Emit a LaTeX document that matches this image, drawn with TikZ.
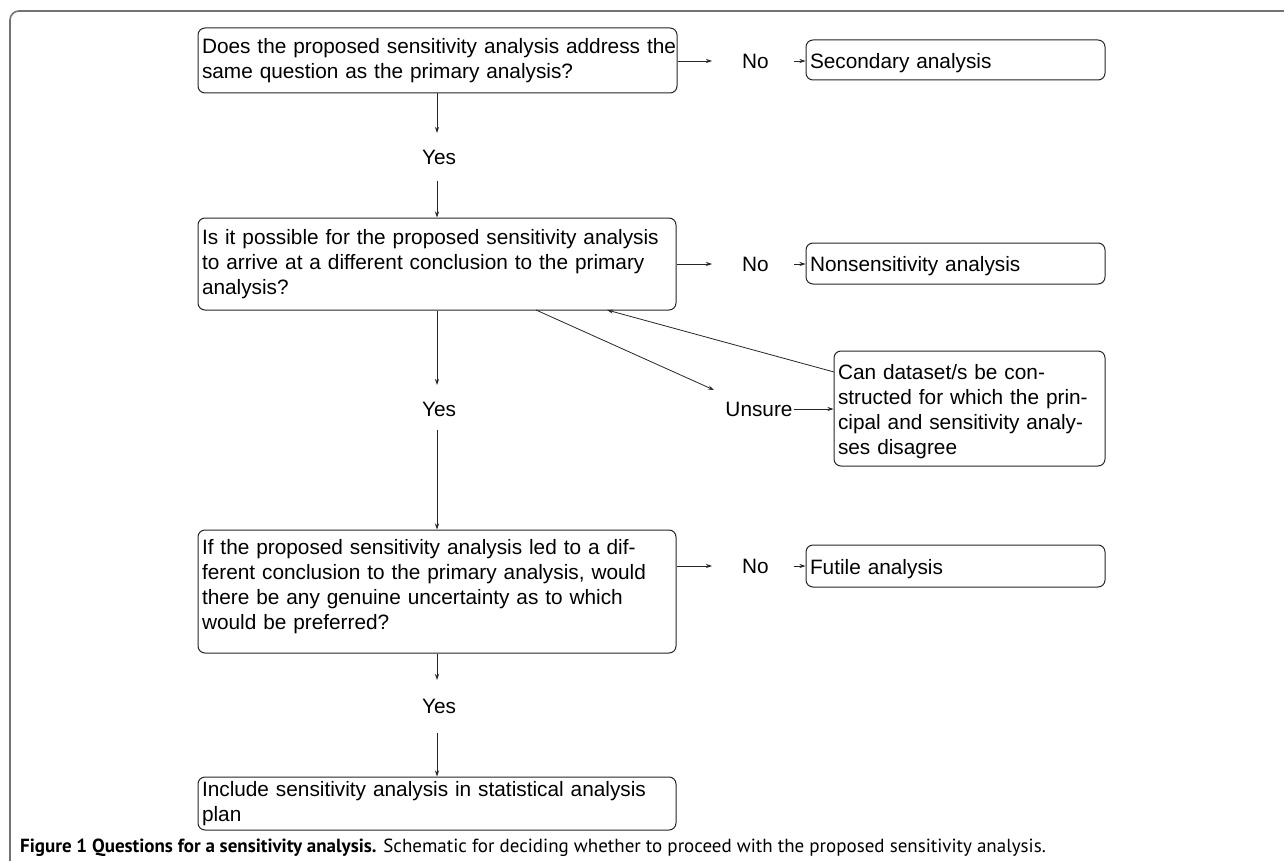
\documentclass[tikz,border=0pt]{standalone}
\usepackage{fontspec}
\setmainfont{Liberation Sans}
\newfontfamily\capfont{PT Sans}
\usetikzlibrary{arrows.meta}
\newcommand\toppad{\rule{0pt}{21pt}}
\newcommand\botpad{\rule[-13.5pt]{0pt}{13.5pt}}
\tikzset{
  box/.style={draw=black!85, line width=1pt, rounded corners=7pt, inner xsep=4pt, inner ysep=0pt,
    align=left, font=\fontsize{20.8}{25}\selectfont},
  lbl/.style={inner sep=0pt, font=\fontsize{20.8}{25}\selectfont},
  arr/.style={draw=black!85, line width=0.8pt, -{Stealth[length=6pt,width=4pt]}},
  frame/.style={draw=black!55, line width=1.6pt, rounded corners=9pt}
}
\begin{document}
\begin{tikzpicture}[x=1pt,y=-1pt]
\useasboundingbox (0,0) rectangle (1284,861);
\fill[white] (0,0) rectangle (1284,861);
\draw[frame] (1300,11) -- (10,11) -- (10,880);

% boxes
\node[box, minimum width=479, text width=471, minimum height=65] (A) at (437.5,60.5)
  {\mbox{Does the proposed sensitivity analysis address the}\\same question as the primary analysis?};
\node[box, minimum width=299, text width=291, minimum height=40] (B) at (955.5,60)
  {\toppad Secondary analysis};
\node[box, minimum width=478, text width=470, minimum height=92] (C) at (437,264)
  {\mbox{Is it possible for the proposed sensitivity analysis}\\\mbox{to arrive at a different conclusion to the primary}\\analysis?};
\node[box, minimum width=299, text width=291, minimum height=41] (D) at (955.5,263.5)
  {\toppad Nonsensitivity analysis};
\node[box, minimum width=271, text width=263, minimum height=115] (F) at (969.5,408.5)
  {\toppad Can dataset/s be con-\\structed for which the prin-\\cipal and sensitivity analy-\\ses disagree};
\node[box, minimum width=478, text width=470, minimum height=123] (E) at (437,591.5)
  {\mbox{If the proposed sensitivity analysis led to a dif-}\\\mbox{ferent conclusion to the primary analysis, would}\\there be any genuine uncertainty as to which\\would be preferred?\botpad};
\node[box, minimum width=299, text width=291, minimum height=42] (G) at (955.5,566)
  {\toppad Futile analysis};
\node[box, minimum width=478, text width=470, minimum height=53] (H) at (437,803.5)
  {\mbox{Include sensitivity analysis in statistical analysis}\\plan};

% labels
\node[lbl] (no1) at (755.5,61) {No};
\node[lbl] (no2) at (755.5,264) {No};
\node[lbl] (no3) at (755.5,566) {No};
\node[lbl] (yes1) at (439,157) {Yes};
\node[lbl] (yes2) at (439,409) {Yes};
\node[lbl] (yes3) at (439,706) {Yes};
\node[lbl] (uns) at (759,409) {Unsure};

\coordinate (cdiag) at (536,310);
\coordinate (udiag) at (714,390);
\coordinate (cback) at (607,310);
\coordinate (fback) at (834,372);

% connectors
\draw[arr] (A.east |- no1) -- ([xshift=-30pt]no1.west);
\draw[arr] ([xshift=25pt]no1.east) -- (B.west |- no1);
\draw[arr] (C.east |- no2) -- ([xshift=-30pt]no2.west);
\draw[arr] ([xshift=25pt]no2.east) -- (D.west |- no2);
\draw[arr] (E.east |- no3) -- ([xshift=-30pt]no3.west);
\draw[arr] ([xshift=25pt]no3.east) -- (G.west |- no3);

\draw[arr] (A.south -| 437,0) -- (437,133);
\draw[arr] (437,181) -- (C.north -| 437,0);
\draw[arr] (C.south -| 437,0) -- (437,385);
\draw[arr] (437,430) -- (E.north -| 437,0);
\draw[arr] (E.south -| 437,0) -- (437,680);
\draw[arr] (437,733) -- (H.north -| 437,0);

\draw[arr] (cdiag) -- (udiag);
\draw[arr] ([xshift=1pt]uns.east) -- (F.west |- uns);
\draw[arr] (fback) -- (cback);

% caption
\node[anchor=base west, inner sep=0pt, font=\capfont\fontsize{19}{22}\selectfont] (cap) at (20,852)
  {\textbf{Figure 1 Questions for a sensitivity analysis.} Schematic for deciding whether to proceed with the proposed sensitivity analysis.};
\end{tikzpicture}
\end{document}
